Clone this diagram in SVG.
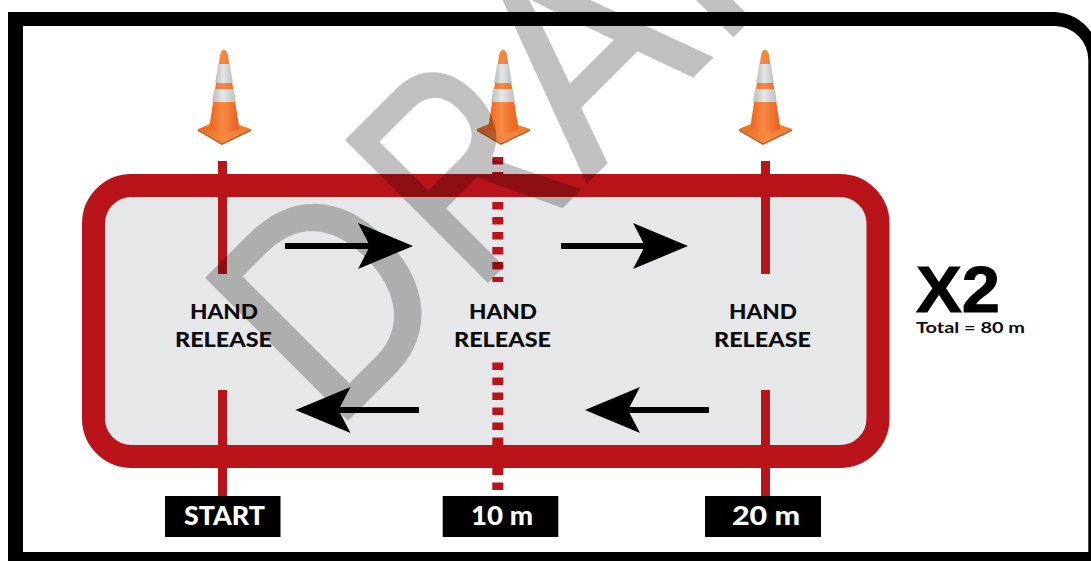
<svg xmlns="http://www.w3.org/2000/svg" width="1091" height="561" viewBox="0 0 1091 561">
<style>
.lbl{font-family:"Lato","Liberation Sans",sans-serif;font-weight:900;font-size:21.5px;fill:#0b0b0b}
.tag{font-family:"Lato","Liberation Sans",sans-serif;font-weight:900;font-size:27px;fill:#fff}
.box{fill:#000}
.post{stroke:#b9141a;stroke-width:9;fill:none}
.dash{stroke:#b9141a;stroke-width:11;stroke-dasharray:7.5 7.5;fill:none}
.arrow{stroke:#000;stroke-width:6;fill:none}
.wm{font-family:"Liberation Sans",sans-serif;font-size:288px;fill:#000;stroke:#000;stroke-width:4}
</style>
<defs>
<linearGradient id="body" x1="0" x2="1" y1="0" y2="0">
<stop offset="0" stop-color="#ee641e"/><stop offset=".45" stop-color="#f78a45"/><stop offset="1" stop-color="#e8601c"/>
</linearGradient>
<linearGradient id="band" x1="0" x2="1" y1="0" y2="0">
<stop offset="0" stop-color="#b9bbbc"/><stop offset=".45" stop-color="#e6e6e6"/><stop offset="1" stop-color="#bdbfc0"/>
</linearGradient>
<linearGradient id="plate" x1="0" x2="1" y1="0" y2="0">
<stop offset="0" stop-color="#e8691f"/><stop offset=".5" stop-color="#f58a42"/><stop offset="1" stop-color="#ef7a2c"/>
</linearGradient>
<g id="cone">
<path d="M-26,88 L-2,78 L27,88 L-2,102 Z" fill="url(#plate)"/>
<path d="M-26,88 L-2,102 L27,88 L27,90 L-2,104 L-26,90 Z" fill="#c9561a"/>
<path d="M-3.5,12 Q0,5 3.5,12 L15.500,88 Q0,96 -15,88 Z" fill="url(#body)"/>
<path d="M-5.800,23 H5.800 L8.800,42 H-8.800 Z" fill="url(#band)"/>
<path d="M-9.800,48 H9.800 L11.800,61 H-11.800 Z" fill="url(#band)"/>
</g>
<marker id="head" markerUnits="userSpaceOnUse" markerWidth="60" markerHeight="50" refX="12" refY="23" orient="auto">
<path d="M0,0 L55,23 L0,46 L12,23 Z" fill="#000"/>
</marker>
</defs>

<path id="frame" fill-rule="evenodd" fill="#000" d="M8,12 H1055 A48,48 0 0 1 1091,32 V561 H8 Z M23,26 V552 H1088.3 V60 A33.5,34 0 0 0 1055,26 Z"/>

<g id="track"><rect x="93.5" y="185.5" width="784.5" height="271" rx="38" ry="38" fill="#e6e7e8" stroke="#b9141a" stroke-width="23"/></g>

<g id="connectors">
<path class="post" d="M222.5,161 V274 M222.5,390 V496 M765.5,161 V274 M765.5,390 V496"/>
<path class="dash" d="M497.8,157 V282"/>
<path class="dash" d="M497.8,362.5 V490"/>
<path class="arrow" marker-end="url(#head)" d="M285,246 H370"/>
<path class="arrow" marker-end="url(#head)" d="M561,246 H645"/>
<path class="arrow" marker-end="url(#head)" d="M419,410 H338.500"/>
<path class="arrow" marker-end="url(#head)" d="M709,410 H628"/>
</g>

<g id="cone-start"><use href="#cone" x="224" y="41"/></g>
<g id="cone-10m"><use href="#cone" x="503" y="41"/></g>
<g id="cone-20m"><use href="#cone" x="765" y="41"/></g>

<g id="release-start"><text class="lbl" x="190" y="319" textLength="68" lengthAdjust="spacingAndGlyphs">HAND</text><text class="lbl" x="175" y="346.700" textLength="97" lengthAdjust="spacingAndGlyphs">RELEASE</text></g>
<g id="release-10m"><text class="lbl" x="469" y="319" textLength="68" lengthAdjust="spacingAndGlyphs">HAND</text><text class="lbl" x="454" y="346.700" textLength="97" lengthAdjust="spacingAndGlyphs">RELEASE</text></g>
<g id="release-20m"><text class="lbl" x="729" y="319" textLength="68" lengthAdjust="spacingAndGlyphs">HAND</text><text class="lbl" x="714" y="346.700" textLength="97" lengthAdjust="spacingAndGlyphs">RELEASE</text></g>

<g id="tag-start"><rect class="box" x="165" y="496" width="115.500" height="41"/><text class="tag" x="184" y="525" textLength="81" lengthAdjust="spacingAndGlyphs">START</text></g>
<g id="tag-10m"><rect class="box" x="442.700" y="496" width="115.600" height="41"/><text class="tag" x="471" y="525" textLength="62" lengthAdjust="spacingAndGlyphs">10 m</text></g>
<g id="tag-20m"><rect class="box" x="705" y="496" width="116" height="41"/><text class="tag" x="732" y="525" textLength="68" lengthAdjust="spacingAndGlyphs">20 m</text></g>

<g id="repeat">
<text x="916" y="311.700" font-family="Liberation Sans, sans-serif" font-weight="700" font-size="65" fill="#000" stroke="#000" stroke-width="1" textLength="84" lengthAdjust="spacingAndGlyphs">X2</text>
<text x="916" y="333" font-family="Lato, Liberation Sans, sans-serif" font-weight="700" font-size="16" fill="#0b0b0b" textLength="109" lengthAdjust="spacingAndGlyphs">Total = 80 m</text>
</g>

<g id="watermark" opacity=".25">
<text class="wm" transform="translate(333,433) rotate(-45) scale(.89,1)">D</text>
<text class="wm" transform="translate(475,293) rotate(-45) scale(.75,1)">R</text>
<text class="wm" transform="translate(587,181) rotate(-45) scale(.91,1)">A</text>
<text class="wm" transform="translate(719,49) rotate(-45) scale(.85,1)">F</text>
</g>
</svg>
